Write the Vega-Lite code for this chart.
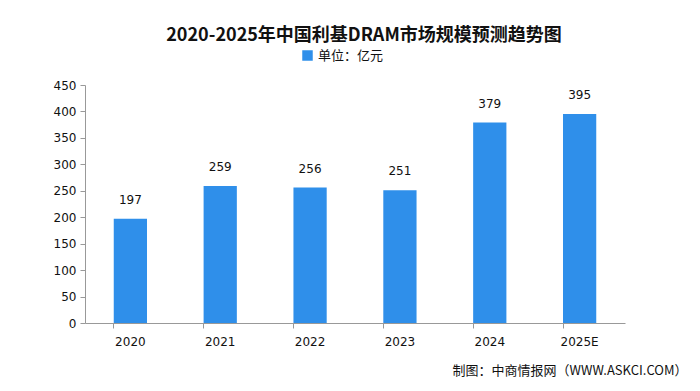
{
  "$schema": "https://vega.github.io/schema/vega-lite/v6.json",
  "autosize": "none",
  "width": 540,
  "height": 238,
  "padding": {"left": 85, "top": 85, "right": 75, "bottom": 68},
  "background": "white",
  "title": {
    "text": "2020-2025年中国利基DRAM市场规模预测趋势图",
    "font": "Noto Sans CJK SC",
    "fontSize": 18,
    "fontWeight": "bold",
    "color": "#111111",
    "anchor": "middle",
    "dx": 9,
    "offset": 4
  },
  "data": {
    "values": [
      {"year": "2020", "value": 197, "series": "单位：亿元"},
      {"year": "2021", "value": 259, "series": "单位：亿元"},
      {"year": "2022", "value": 256, "series": "单位：亿元"},
      {"year": "2023", "value": 251, "series": "单位：亿元"},
      {"year": "2024", "value": 379, "series": "单位：亿元"},
      {"year": "2025E", "value": 395, "series": "单位：亿元"}
    ]
  },
  "config": {
    "view": {"stroke": null},
    "axis": {
      "labelFont": "DejaVu Sans",
      "labelFontSize": 12,
      "labelColor": "#111111",
      "domainColor": "#999999",
      "tickColor": "#999999",
      "grid": false
    }
  },
  "encoding": {
    "x": {
      "field": "year",
      "type": "nominal",
      "sort": null,
      "scale": {"paddingInner": 0.63, "paddingOuter": 0.32},
      "axis": {
        "title": "制图：中商情报网（WWW.ASKCI.COM）",
        "titleFont": "Noto Sans CJK SC",
        "titleFontSize": 13,
        "titleFontWeight": "normal",
        "titleColor": "#111111",
        "titleAnchor": "end",
        "titleAlign": "right",
        "titleBaseline": "middle",
        "titleX": 602,
        "titleY": 47,
        "labelAngle": 0,
        "labelPadding": 8,
        "bandPosition": 0,
        "tickSize": 5
      }
    },
    "y": {
      "field": "value",
      "type": "quantitative",
      "scale": {"domain": [0, 450]},
      "axis": {
        "title": null,
        "values": [0, 50, 100, 150, 200, 250, 300, 350, 400, 450],
        "tickSize": 5,
        "labelPadding": 4
      }
    }
  },
  "layer": [
    {
      "mark": {"type": "bar", "color": "#2F8FEA"},
      "encoding": {
        "color": {
          "field": "series",
          "type": "nominal",
          "scale": {"range": ["#2F8FEA"]},
          "legend": {
            "title": null,
            "orient": "none",
            "legendX": 216,
            "legendY": -36,
            "symbolType": "square",
            "symbolSize": 110,
            "labelFont": "Noto Sans CJK SC",
            "labelFontSize": 13,
            "labelColor": "#111111"
          }
        }
      }
    },
    {
      "mark": {"type": "text", "dy": -19, "font": "DejaVu Sans", "fontSize": 12, "color": "#111111"},
      "encoding": {"text": {"field": "value", "type": "quantitative"}}
    }
  ]
}
